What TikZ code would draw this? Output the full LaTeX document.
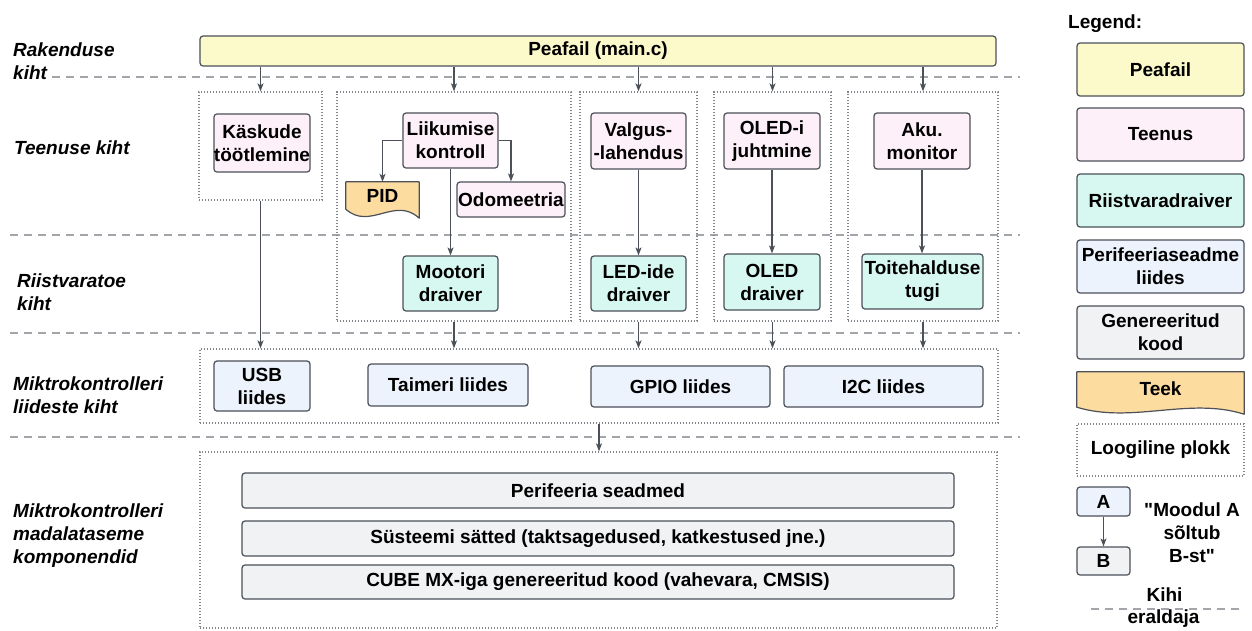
\documentclass[tikz,border=0pt]{standalone}
\usepackage{fontspec}
\setmainfont{Liberation Sans}[Ligatures=TeXOff]
\usetikzlibrary{arrows.meta,calc}

\definecolor{edgecol}{HTML}{4B5059}
\definecolor{sepcol}{HTML}{A2A5AA}
\definecolor{dotcol}{HTML}{80858C}
\definecolor{mainfill}{HTML}{FCFACB}
\definecolor{svcfill}{HTML}{FEF0F8}
\definecolor{drvfill}{HTML}{D7F8F0}
\definecolor{iffill}{HTML}{EDF3FD}
\definecolor{genfill}{HTML}{F1F2F4}
\definecolor{libfill}{HTML}{FDDCA0}

% library (document-like) outline drawn around a named node
\newcommand\libshape[2]{%
  \path[draw=edgecol, line width=1.2pt, fill=libfill, line join=round]
    ($(#1.south west)+(0,-#2)$) -- (#1.north west) -- (#1.north east) -- (#1.south east)
    .. controls ($(#1.south west)!0.67!(#1.south east)+(0,-2.5*#2)$)
       and ($(#1.south west)!0.33!(#1.south east)+(0,1.4*#2)$)
    .. ($(#1.south west)+(0,-#2)$) -- cycle;}

\newcommand\dq{\symbol{34}}

\tikzset{
  blk/.style={draw=edgecol, line width=1.2pt, rounded corners=3pt, align=center, inner sep=0pt},
  sz/.style 2 args={minimum width=#1pt, minimum height=#2pt},
  mainbox/.style={blk, fill=mainfill},
  svcbox/.style={blk, fill=svcfill},
  drvbox/.style={blk, fill=drvfill},
  ifbox/.style={blk, fill=iffill},
  genbox/.style={blk, fill=genfill},
  libbox/.style={align=center, inner sep=0pt, text height=14pt, text depth=10pt},
  group/.style={draw=dotcol, line width=1.3pt, dash pattern=on 1.3pt off 1.7pt, inner sep=0pt},
  layer/.style={anchor=west, align=left, inner sep=0pt, font=\fontsize{19}{23}\selectfont\bfseries\itshape},
  sep/.style={draw=sepcol, line width=2pt, dash pattern=on 8pt off 6pt},
  arr/.style={draw=edgecol, line width=1.2pt, -{Stealth[length=8pt, width=6pt, inset=2pt]}},
}

\begin{document}
\begin{tikzpicture}[x=1pt, y=-1pt, font=\fontsize{19}{23}\selectfont\bfseries]
\useasboundingbox[fill=white] (0,0) rectangle (1252,630);

% layer separators
\coordinate (s1a) at (52,77);   \coordinate (s1b) at (1020,77);
\coordinate (s2a) at (10,235);  \coordinate (s2b) at (1020,235);
\coordinate (s3a) at (10,333);  \coordinate (s3b) at (1020,333);
\coordinate (s4a) at (10,437);  \coordinate (s4b) at (1020,437);
\draw[sep] (s1a) -- (s1b);
\draw[sep] (s2a) -- (s2b);
\draw[sep] (s3a) -- (s3b);
\draw[sep] (s4a) -- (s4b);

% layer titles
\node[layer] (lapp) at (13,61) {Rakenduse\\kiht};
\node[layer] (lsvc) at (14,148) {Teenuse kiht};
\node[layer] (lhw)  at (17,292.5) {Riistvaratoe\\kiht};
\node[layer] (lif)  at (13,395.5) {Miktrokontrolleri\\liideste kiht};
\node[layer] (llow) at (13,536) {Miktrokontrolleri\\madalataseme\\komponendid};

% application layer
\node[mainbox, sz={796}{30}] (main) at (598,51) {Peafail (main.c)};

% logical blocks
\node[group, sz={123}{108}] (c1) at (260.5,146) {};
\node[group, sz={234}{229}] (c2) at (454,206.5) {};
\node[group, sz={117}{229}] (c3) at (638.5,206.5) {};
\node[group, sz={117}{229}] (c4) at (772.5,206.5) {};
\node[group, sz={150}{229}] (c5) at (923,206.5) {};
\node[group, sz={798}{74}]  (ifc) at (599,386) {};
\node[group, sz={797}{176}] (low) at (598.5,540) {};

% services
\node[svcbox, sz={96}{58}] (cmd)  at (262,143) {Käskude\\töötlemine};
\node[svcbox, sz={95}{55}] (mot)  at (450.5,140.5) {Liikumise\\kontroll};
\node[libbox, sz={73}{36}] (pid)  at (382.5,200) {};
\node[svcbox, sz={108}{35}] (odo) at (511,199.5) {Odomeetria};
\node[svcbox, sz={95}{56}] (led)  at (638.5,141) {Valgus-\\-lahendus};
\node[svcbox, sz={96}{56}] (oledc) at (772,141) {OLED-i\\juhtmine};
\node[svcbox, sz={96}{56}] (bat)  at (922,141) {Aku.\\monitor};

% hardware drivers
\node[drvbox, sz={95}{55}]  (motd) at (450.5,283.5) {Mootori\\draiver};
\node[drvbox, sz={95}{55}]  (ledd) at (638.5,283.5) {LED-ide\\draiver};
\node[drvbox, sz={96}{56}]  (oledd) at (772,282) {OLED\\draiver};
\node[drvbox, sz={121}{55}] (pwr)  at (922.5,281.5) {Toitehalduse\\tugi};

% peripheral interfaces
\node[ifbox, sz={96}{50}]  (usb)  at (262,386) {USB\\liides};
\node[ifbox, sz={160}{42}] (tim)  at (448,385) {Taimeri liides};
\node[ifbox, sz={179}{41}] (gpio) at (680.5,386.5) {GPIO liides};
\node[ifbox, sz={199}{41}] (i2c)  at (883.5,386.5) {I2C liides};

% generated low-level code
\node[genbox, sz={712}{35}] (per) at (598,490.5) {Perifeeria seadmed};
\node[genbox, sz={712}{35}] (sys) at (598,538.5) {Süsteemi sätted (taktsagedused, katkestused jne.)};
\node[genbox, sz={712}{34}] (cube) at (598,582) {CUBE MX-iga genereeritud kood (vahevara, CMSIS)};

% dependencies
\draw[arr] (main.south -| c1.north) -- (c1.north);
\draw[arr] (main.south -| c2.north) -- (c2.north);
\draw[arr] (main.south -| c3.north) -- (c3.north);
\draw[arr] (main.south -| c4.north) -- (c4.north);
\draw[arr] (main.south -| c5.north) -- (c5.north);

\draw[arr] (mot.west) -| (pid.north);
\draw[arr] (mot.east) -| (odo.north);
\draw[arr] (mot.south) -- (motd.north);
\draw[arr] (led.south) -- (ledd.north);
\draw[arr] (oledc.south) -- (oledd.north);
\draw[arr] (bat.south) -- (bat.south |- pwr.north);

\draw[arr] (c1.south) -- (c1.south |- ifc.north);
\draw[arr] (c2.south) -- (c2.south |- ifc.north);
\draw[arr] (c3.south) -- (c3.south |- ifc.north);
\draw[arr] (c4.south) -- (c4.south |- ifc.north);
\draw[arr] (c5.south) -- (c5.south |- ifc.north);
\draw[arr] (ifc.south) -- (ifc.south |- low.north);

% legend
\node[anchor=west, inner sep=0pt] (legt) at (1068,24) {Legend:};
\node[mainbox, sz={167}{53}] (kmain) at (1160.5,69.5) {Peafail};
\node[svcbox, sz={167}{53}]  (ksvc)  at (1160.5,134.5) {Teenus};
\node[drvbox, sz={167}{53}]  (kdrv)  at (1160.5,200.5) {Riistvaradraiver};
\node[ifbox, sz={167}{53}]   (kif)   at (1160.5,266.5) {Perifeeriaseadme\\liides};
\node[genbox, sz={167}{53}]  (kgen)  at (1160.5,332.5) {Genereeritud\\kood};
\node[libbox, sz={167}{42}]  (klib)  at (1160.5,393) {};
\node[group, sz={167}{52}]   (kgrp)  at (1160.5,450) {Loogiline plokk};
\node[ifbox, sz={53}{29}]    (ka)    at (1103.5,501.5) {A};
\node[genbox, sz={53}{28}]   (kb)    at (1103.5,561) {B};
\draw[arr] (ka.south) -- (kb.north);
\node[align=center] (kdep) at (1192,532.5) {\dq Moodul A\\sõltub\\B-st\dq};
\coordinate (ksa) at (1091,609); \coordinate (ksb) at (1240,609);
\draw[sep, line width=1.6pt] (ksa) -- (ksb);
\node (ksep1) at (1164.5,595) {Kihi};
\node (ksep2) at (1163.5,619) {eraldaja};

% library outlines with their labels on top
\libshape{pid}{9}
\node[libbox, sz={73}{36}] (pidtxt) at (pid) {PID};
\libshape{klib}{7}
\node[libbox, sz={167}{42}] (klibtxt) at (klib) {Teek};
\end{tikzpicture}
\end{document}
